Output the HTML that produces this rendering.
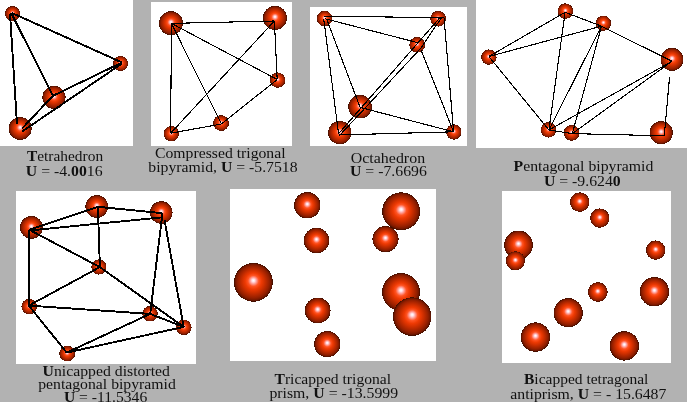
<!DOCTYPE html>
<html><head><meta charset="utf-8"><title>Clusters</title>
<style>
html,body{margin:0;padding:0;background:#b2b2b2;overflow:hidden}
svg{display:block}
text{font-family:"Liberation Serif",serif;font-size:15px;fill:#111}
</style></head>
<body>
<svg width="687" height="402" viewBox="0 0 687 402">
<defs>
<radialGradient id="g" cx="0.5" cy="0.5" r="0.5" fx="0.5" fy="0.45">
<stop offset="0" stop-color="#ffffff"/>
<stop offset="0.07" stop-color="#ffe2ea"/>
<stop offset="0.17" stop-color="#ff9a92"/>
<stop offset="0.28" stop-color="#ff5424"/>
<stop offset="0.42" stop-color="#ee3a04"/>
<stop offset="0.56" stop-color="#d23000"/>
<stop offset="0.7" stop-color="#b22700"/>
<stop offset="0.82" stop-color="#962000"/>
<stop offset="0.92" stop-color="#761800"/>
<stop offset="1" stop-color="#3c0e00"/>
</radialGradient>
</defs>
<rect x="0" y="0" width="687" height="402" fill="#b2b2b2"/>
<rect x="0" y="0" width="133" height="146" fill="#ffffff"/>
<rect x="151" y="2" width="141" height="144" fill="#ffffff"/>
<rect x="310" y="7" width="157" height="139" fill="#ffffff"/>
<rect x="476" y="0" width="211" height="148" fill="#ffffff"/>
<rect x="16" y="191" width="180" height="173" fill="#ffffff"/>
<rect x="230" y="189" width="206" height="172" fill="#ffffff"/>
<rect x="502" y="191" width="169" height="172" fill="#ffffff"/>
<g>
<circle cx="12.5" cy="13.6" r="7.5" fill="url(#g)" shape-rendering="crispEdges"/>
<circle cx="120.6" cy="63.5" r="7.5" fill="url(#g)" shape-rendering="crispEdges"/>
<circle cx="54" cy="97.4" r="11.6" fill="url(#g)" shape-rendering="crispEdges"/>
<circle cx="20.2" cy="128.5" r="11.5" fill="url(#g)" shape-rendering="crispEdges"/>
<g stroke="#000" stroke-width="1.9" stroke-linecap="butt" fill="none" shape-rendering="crispEdges">
<line x1="10" y1="13.5" x2="17" y2="124"/>
<line x1="11.5" y1="13.5" x2="52.9" y2="95.8"/>
<line x1="12" y1="13" x2="122" y2="62.5"/>
<line x1="52.9" y1="95.8" x2="122" y2="62.5"/>
<line x1="22" y1="131.6" x2="122" y2="63.5"/>
<line x1="22" y1="128.6" x2="52.9" y2="95.8"/>
</g>
</g>
<g>
<circle cx="171" cy="23.2" r="12" fill="url(#g)" shape-rendering="crispEdges"/>
<circle cx="275" cy="17.9" r="12" fill="url(#g)" shape-rendering="crispEdges"/>
<circle cx="277.7" cy="80.1" r="7.7" fill="url(#g)" shape-rendering="crispEdges"/>
<circle cx="171.3" cy="133.7" r="7.7" fill="url(#g)" shape-rendering="crispEdges"/>
<circle cx="221.1" cy="123.1" r="7.9" fill="url(#g)" shape-rendering="crispEdges"/>
<g stroke="#000" stroke-width="1.1" stroke-linecap="butt" fill="none" shape-rendering="crispEdges">
<line x1="171.4" y1="23.4" x2="274.4" y2="21"/>
<line x1="171.4" y1="23.4" x2="170.7" y2="133.2"/>
<line x1="171.4" y1="23.4" x2="221.4" y2="124"/>
<line x1="171.4" y1="23.4" x2="277.2" y2="79.5"/>
<line x1="274.4" y1="21" x2="277.2" y2="79.5"/>
<line x1="274.4" y1="21" x2="170.7" y2="133.2"/>
<line x1="170.7" y1="133.2" x2="221.4" y2="124"/>
<line x1="221.4" y1="124" x2="277.2" y2="79.5"/>
</g>
</g>
<g>
<circle cx="324.6" cy="18.5" r="7.8" fill="url(#g)" shape-rendering="crispEdges"/>
<circle cx="438.1" cy="18.7" r="7.9" fill="url(#g)" shape-rendering="crispEdges"/>
<circle cx="417.2" cy="44.8" r="7.9" fill="url(#g)" shape-rendering="crispEdges"/>
<circle cx="360.1" cy="106.7" r="11.8" fill="url(#g)" shape-rendering="crispEdges"/>
<circle cx="339.8" cy="132.6" r="11.7" fill="url(#g)" shape-rendering="crispEdges"/>
<circle cx="453.8" cy="132" r="7.7" fill="url(#g)" shape-rendering="crispEdges"/>
<g stroke="#000" stroke-width="1.1" stroke-linecap="butt" fill="none" shape-rendering="crispEdges">
<line x1="323.7" y1="16.3" x2="444" y2="17.6"/>
<line x1="325" y1="18.7" x2="419" y2="43"/>
<line x1="327" y1="20" x2="360.1" y2="107.4"/>
<line x1="323.7" y1="18.7" x2="338.6" y2="134"/>
<line x1="444" y1="17.6" x2="453.6" y2="131.8"/>
<line x1="453.6" y1="131.8" x2="421" y2="50"/>
<line x1="453.6" y1="131.8" x2="360.1" y2="107.4"/>
<line x1="453.6" y1="131.8" x2="338.6" y2="135"/>
<line x1="440" y1="17.6" x2="339.2" y2="133"/>
<line x1="441.5" y1="17.6" x2="421" y2="48"/>
<line x1="421" y1="48" x2="340" y2="135"/>
</g>
</g>
<g>
<circle cx="565.4" cy="11.1" r="7.8" fill="url(#g)" shape-rendering="crispEdges"/>
<circle cx="603.4" cy="23.2" r="7.7" fill="url(#g)" shape-rendering="crispEdges"/>
<circle cx="488.9" cy="57.1" r="7.7" fill="url(#g)" shape-rendering="crispEdges"/>
<circle cx="672" cy="59.4" r="11.5" fill="url(#g)" shape-rendering="crispEdges"/>
<circle cx="548.5" cy="129.9" r="7.8" fill="url(#g)" shape-rendering="crispEdges"/>
<circle cx="571.6" cy="132.9" r="7.9" fill="url(#g)" shape-rendering="crispEdges"/>
<circle cx="661.2" cy="132.7" r="11.6" fill="url(#g)" shape-rendering="crispEdges"/>
<g stroke="#000" stroke-width="1.1" stroke-linecap="butt" fill="none" shape-rendering="crispEdges">
<line x1="488.9" y1="56.5" x2="565.1" y2="12.3"/>
<line x1="488.9" y1="56.5" x2="601.5" y2="26.2"/>
<line x1="488.9" y1="56.5" x2="548.9" y2="130"/>
<line x1="565.1" y1="12.3" x2="601.5" y2="26.2"/>
<line x1="565.1" y1="12.3" x2="548.9" y2="130"/>
<line x1="601.5" y1="26.2" x2="672" y2="61.3"/>
<line x1="601.5" y1="26.2" x2="548.9" y2="130"/>
<line x1="601.5" y1="26.2" x2="572.3" y2="133.6"/>
<line x1="672" y1="61.3" x2="548.9" y2="130"/>
<line x1="672" y1="61.3" x2="572.3" y2="133.6"/>
<line x1="548.9" y1="130" x2="572.3" y2="133.6"/>
<line x1="572.3" y1="133.6" x2="664.3" y2="135.8"/>
<line x1="669.5" y1="77.5" x2="664.3" y2="135.8"/>
</g>
</g>
<g>
<circle cx="31.4" cy="227.4" r="11.4" fill="url(#g)" shape-rendering="crispEdges"/>
<circle cx="96.8" cy="206.5" r="11.4" fill="url(#g)" shape-rendering="crispEdges"/>
<circle cx="161.3" cy="212.5" r="11.3" fill="url(#g)" shape-rendering="crispEdges"/>
<circle cx="98.9" cy="267" r="7.6" fill="url(#g)" shape-rendering="crispEdges"/>
<circle cx="29.2" cy="306.6" r="7.8" fill="url(#g)" shape-rendering="crispEdges"/>
<circle cx="150" cy="313.8" r="7.8" fill="url(#g)" shape-rendering="crispEdges"/>
<circle cx="183.8" cy="327.3" r="7.8" fill="url(#g)" shape-rendering="crispEdges"/>
<circle cx="67.2" cy="353.6" r="7.9" fill="url(#g)" shape-rendering="crispEdges"/>
<g stroke="#000" stroke-width="1.9" stroke-linecap="butt" fill="none" shape-rendering="crispEdges">
<line x1="29.4" y1="229.8" x2="97.9" y2="206.8"/>
<line x1="97.9" y1="206.8" x2="162.1" y2="213.2"/>
<line x1="29.4" y1="229.8" x2="28.8" y2="305.6"/>
<line x1="29.4" y1="229.8" x2="99.9" y2="267.1"/>
<line x1="97.9" y1="206.8" x2="99.9" y2="267.1"/>
<line x1="99.9" y1="267.1" x2="28.8" y2="305.6"/>
<line x1="99.9" y1="267.1" x2="183.7" y2="326.9"/>
<line x1="28.8" y1="305.6" x2="150.2" y2="313.9"/>
<line x1="28.8" y1="305.6" x2="66.7" y2="352.6"/>
<line x1="66.7" y1="352.6" x2="150.2" y2="313.9"/>
<line x1="66.7" y1="352.6" x2="183.7" y2="326.9"/>
<line x1="150.2" y1="313.9" x2="183.7" y2="326.9"/>
<line x1="29.4" y1="230.5" x2="162.5" y2="217.3"/>
<line x1="162" y1="217" x2="150.2" y2="313.9"/>
<line x1="164.5" y1="220" x2="183.7" y2="326.9"/>
<line x1="162.1" y1="212.5" x2="162.1" y2="218"/>
</g>
</g>
<g>
<circle cx="307.3" cy="205.3" r="13.2" fill="url(#g)" shape-rendering="crispEdges"/>
<circle cx="385.5" cy="239.1" r="13.1" fill="url(#g)" shape-rendering="crispEdges"/>
<circle cx="401.2" cy="211.3" r="19" fill="url(#g)" shape-rendering="crispEdges"/>
<circle cx="316.5" cy="240.5" r="12.8" fill="url(#g)" shape-rendering="crispEdges"/>
<circle cx="253.4" cy="282.3" r="19.4" fill="url(#g)" shape-rendering="crispEdges"/>
<circle cx="401" cy="292" r="19" fill="url(#g)" shape-rendering="crispEdges"/>
<circle cx="412.2" cy="316.6" r="19.3" fill="url(#g)" shape-rendering="crispEdges"/>
<circle cx="317.7" cy="310.5" r="12.9" fill="url(#g)" shape-rendering="crispEdges"/>
<circle cx="327.3" cy="344.1" r="13.1" fill="url(#g)" shape-rendering="crispEdges"/>
</g>
<g>
<circle cx="579.7" cy="202.1" r="9.8" fill="url(#g)" shape-rendering="crispEdges"/>
<circle cx="599.8" cy="218.1" r="9.7" fill="url(#g)" shape-rendering="crispEdges"/>
<circle cx="518.5" cy="245" r="14.4" fill="url(#g)" shape-rendering="crispEdges"/>
<circle cx="515.4" cy="260.8" r="9.6" fill="url(#g)" shape-rendering="crispEdges"/>
<circle cx="655.7" cy="250.1" r="9.7" fill="url(#g)" shape-rendering="crispEdges"/>
<circle cx="597.8" cy="292" r="9.9" fill="url(#g)" shape-rendering="crispEdges"/>
<circle cx="654.4" cy="291.7" r="14.7" fill="url(#g)" shape-rendering="crispEdges"/>
<circle cx="568.2" cy="312.7" r="14.6" fill="url(#g)" shape-rendering="crispEdges"/>
<circle cx="535.5" cy="337.1" r="14.7" fill="url(#g)" shape-rendering="crispEdges"/>
<circle cx="624.3" cy="345.9" r="14.7" fill="url(#g)" shape-rendering="crispEdges"/>
</g>
<g style="filter:grayscale(1)">
<text x="27" y="160.7" textLength="76.1" lengthAdjust="spacingAndGlyphs"><tspan font-weight="bold">T</tspan>etrahedron</text>
<text x="25.8" y="175.8" textLength="76.8" lengthAdjust="spacingAndGlyphs"><tspan font-weight="bold">U</tspan> = -4.<tspan font-weight="bold">00</tspan>16</text>
<text x="155" y="158.2" textLength="130.6" lengthAdjust="spacingAndGlyphs">Compressed trigonal</text>
<text x="148.3" y="172" textLength="149.3" lengthAdjust="spacingAndGlyphs">bipyramid, <tspan font-weight="bold">U</tspan> = -5.7518</text>
<text x="350.8" y="162.7" textLength="74.3" lengthAdjust="spacingAndGlyphs">Octahedron</text>
<text x="350" y="175.6" textLength="76.8" lengthAdjust="spacingAndGlyphs"><tspan font-weight="bold">U</tspan> = -7.6696</text>
<text x="513.5" y="170.9" textLength="139.8" lengthAdjust="spacingAndGlyphs"><tspan font-weight="bold">P</tspan>entagonal bipyramid</text>
<text x="543.9" y="186" textLength="76.8" lengthAdjust="spacingAndGlyphs"><tspan font-weight="bold">U</tspan> = -9.624<tspan font-weight="bold">0</tspan></text>
<text x="42.6" y="376.2" textLength="127.3" lengthAdjust="spacingAndGlyphs"><tspan font-weight="bold">U</tspan>nicapped distorted</text>
<text x="38.2" y="389.3" textLength="137.6" lengthAdjust="spacingAndGlyphs">pentagonal bipyramid</text>
<text x="63.9" y="401.6" textLength="83.3" lengthAdjust="spacingAndGlyphs"><tspan font-weight="bold">U</tspan> = -11.5346</text>
<text x="274.5" y="383.8" textLength="116.6" lengthAdjust="spacingAndGlyphs"><tspan font-weight="bold">T</tspan>ricapped trigonal</text>
<text x="269.4" y="398.2" textLength="128.7" lengthAdjust="spacingAndGlyphs">prism, <tspan font-weight="bold">U</tspan> = -13.5999</text>
<text x="524" y="384.1" textLength="124.4" lengthAdjust="spacingAndGlyphs"><tspan font-weight="bold">B</tspan>icapped tetragonal</text>
<text x="510.3" y="398.6" textLength="156.1" lengthAdjust="spacingAndGlyphs">antiprism, <tspan font-weight="bold">U</tspan> = - 15.6487</text>
</g>
</svg>
</body></html>
